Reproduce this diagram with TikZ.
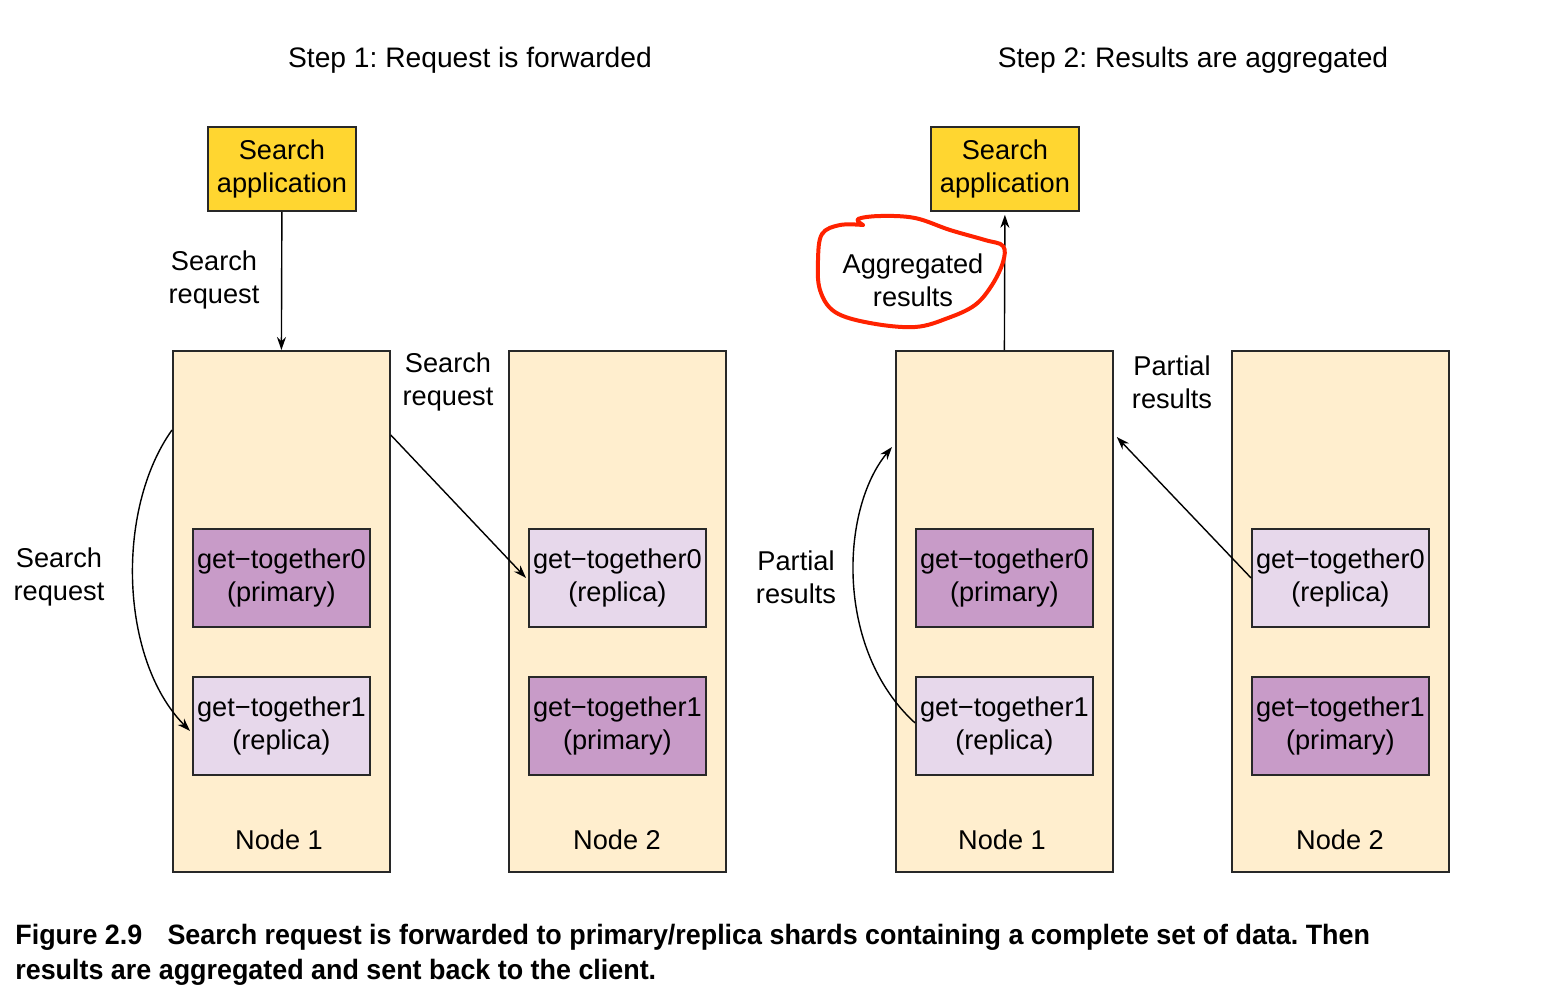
\documentclass[tikz,border=0pt]{standalone}
\usepackage{fontspec}
\setmainfont{Liberation Sans}
\newfontfamily\capfont{Liberation Sans}[FakeStretch=0.96]
\usetikzlibrary{arrows.meta,calc}
\definecolor{appyellow}{RGB}{255,214,48}
\definecolor{beige}{RGB}{255,238,206}
\definecolor{primfill}{RGB}{200,155,200}
\definecolor{repfill}{RGB}{231,216,235}
\definecolor{boxline}{RGB}{40,40,40}
\definecolor{loopred}{RGB}{255,34,0}
\frenchspacing
\begin{document}
\begin{tikzpicture}[x=0.5pt,y=-0.5pt,
  txt/.style={align=center,font=\fontsize{13.6}{16.5}\selectfont,inner sep=0pt},
  titletxt/.style={txt,font=\fontsize{14.1}{16.5}\selectfont},
  appbox/.style={draw=boxline,line width=0.9pt,fill=appyellow,minimum width=74pt,minimum height=42pt,txt,anchor=north west},
  nodebox/.style={draw=boxline,line width=0.9pt,fill=beige,minimum width=108.5pt,minimum height=260.5pt,anchor=north west},
  primbox/.style={draw=boxline,line width=0.9pt,fill=primfill,minimum width=88.5pt,minimum height=49pt,txt,anchor=north west},
  repbox/.style={draw=boxline,line width=0.9pt,fill=repfill,minimum width=88.5pt,minimum height=49pt,txt,anchor=north west},
  arr/.style={-{Stealth[length=6.5pt,width=4.5pt]},line width=0.7pt,black}]
\useasboundingbox (0,0) rectangle (1552,998);
% titles
\node[titletxt] (t1) at (470,60) {Step 1: Request is forwarded};
\node[titletxt] (t2) at (1193,60) {Step 2: Results are aggregated};
% step 1
\node[appbox] (A1) at (207,126) {Search\\application};
\node[nodebox] (L1) at (172,350) {};
\node[nodebox] (L2) at (508,350) {};
\node[primbox] (L1a) at (192,528) {get\textminus together0\\(primary)};
\node[repbox] (L1b) at (192,676) {get\textminus together1\\(replica)};
\node[repbox] (L2a) at (528,528) {get\textminus together0\\(replica)};
\node[primbox] (L2b) at (528,676) {get\textminus together1\\(primary)};
\node[txt] (L1n) at (279,840) {Node 1};
\node[txt] (L2n) at (617,840) {Node 2};
\node[txt] (s1) at (214,280) {Search\\request};
\node[txt] (s2) at (448,382) {Search\\request};
\node[txt] (s3) at (59,577) {Search\\request};
\draw[arr] (A1.south) -- (L1.north);
\coordinate (d1) at ($(L1.north east)+(0,85)$);
\draw[arr] (d1) -- ($(L2a.west)+(-2,0)$);
\coordinate (c1) at ($(L1.north west)+(0,80)$);
\draw[arr] (c1) .. controls (115,510) and (120,660) .. ($(L1b.west)+(-2,5)$);
% step 2
\node[appbox] (A2) at (930,126) {Search\\application};
\node[nodebox] (R1) at (895,350) {};
\node[nodebox] (R2) at (1231,350) {};
\node[primbox] (R1a) at (915,528) {get\textminus together0\\(primary)};
\node[repbox] (R1b) at (915,676) {get\textminus together1\\(replica)};
\node[repbox] (R2a) at (1251,528) {get\textminus together0\\(replica)};
\node[primbox] (R2b) at (1251,676) {get\textminus together1\\(primary)};
\node[txt] (R1n) at (1002,840) {Node 1};
\node[txt] (R2n) at (1340,840) {Node 2};
\node[txt] (p1) at (913,280) {Aggregated\\results};
\node[txt] (p2) at (1172,382) {Partial\\results};
\node[txt] (p3) at (796,577) {Partial\\results};
\draw[arr] (R1.north) -- ($(A2.south)+(0,3)$);
\coordinate (d2) at ($(R1.north east)+(3,87)$);
\draw[arr] (R2a.west) -- (d2);
\coordinate (c2) at ($(R1.north west)+(-3,97)$);
\draw[arr] ($(R1b.west)+(0,-3)$) .. controls (835,650) and (840,510) .. (c2);
% red hand-drawn loop
\draw[loopred,line width=2pt,line cap=round,line join=round]
  plot[smooth,tension=0.6] coordinates {(863,225) (858,219) (880,216) (915,218) (950,230) (985,240) (1003,246) (1003,262) (992,285) (975,305) (948,318) (915,327) (870,323) (835,312) (820,290) (818,260) (822,234) (840,225) (863,225)};
% caption
\node[anchor=north west,inner sep=0pt,align=left,font=\capfont\bfseries\fontsize{14}{17.5}\selectfont] (cap) at (15,924)
  {Figure 2.9\hspace{0.9em}Search request is forwarded to primary/replica shards containing a complete set of data. Then\\
   results are aggregated and sent back to the client.};
\end{tikzpicture}
\end{document}
